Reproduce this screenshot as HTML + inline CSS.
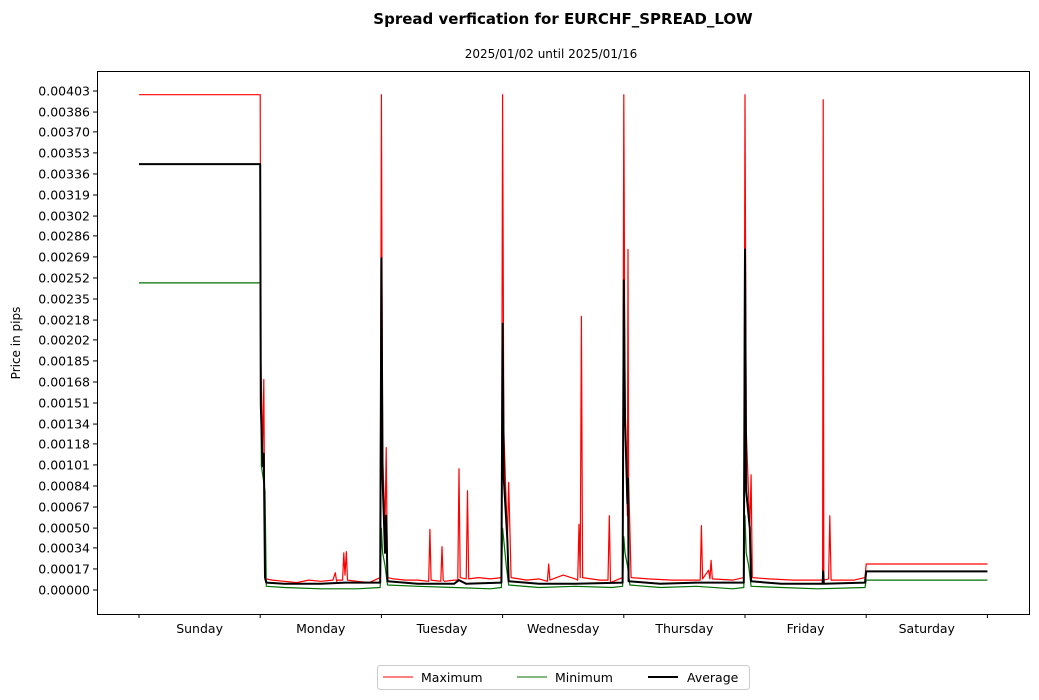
<!DOCTYPE html>
<html><head><meta charset="utf-8"><style>
body{margin:0;background:#fff;font-family:"DejaVu Sans","Liberation Sans",sans-serif;}
svg{display:block}
</style></head><body>
<svg id="c" width="1039" height="700" font-family="DejaVu Sans, Liberation Sans, sans-serif">
<text x="563" y="24" text-anchor="middle" font-size="15" font-weight="bold">Spread verfication for EURCHF_SPREAD_LOW</text>
<text x="551" y="58" text-anchor="middle" font-size="12">2025/01/02 until 2025/01/16</text>
<text transform="translate(20,343) rotate(-90)" text-anchor="middle" font-size="12">Price in pips</text>
<g id="plot"></g>
<rect x="97.5" y="71.5" width="932" height="543" fill="none" stroke="#000" stroke-width="1"/>
<g>
<rect x="377.5" y="665.5" width="372" height="24" rx="3" fill="#fff" stroke="#ccc"/>
<line x1="383" y1="677" x2="413" y2="677" stroke="red" stroke-width="1"/>
<text x="421" y="682" font-size="12.5">Maximum</text>
<line x1="517" y1="677" x2="547" y2="677" stroke="#007000" stroke-width="1"/>
<text x="555" y="682" font-size="12.5">Minimum</text>
<line x1="648" y1="677" x2="678" y2="677" stroke="#000" stroke-width="2"/>
<text x="687" y="682" font-size="12.5">Average</text>
</g>
</svg>
<script>
const yTicks=["0.00000","0.00017","0.00034","0.00050","0.00067","0.00084","0.00101","0.00118","0.00134","0.00151","0.00168","0.00185","0.00202","0.00218","0.00235","0.00252","0.00269","0.00286","0.00302","0.00319","0.00336","0.00353","0.00370","0.00386","0.00403"];
const days=["Sunday","Monday","Tuesday","Wednesday","Thursday","Friday","Saturday"];
const maxT=[0,1.0,1.005,1.02,1.03,1.04,1.05,1.1,1.2,1.3,1.4,1.5,1.6,1.62,1.63,1.64,1.68,1.69,1.7,1.71,1.72,1.8,1.9,1.99,2.0,2.01,2.03,2.04,2.05,2.1,2.2,2.3,2.39,2.4,2.41,2.49,2.5,2.51,2.52,2.6,2.63,2.64,2.65,2.7,2.71,2.72,2.8,2.9,2.99,3.0,3.01,3.04,3.05,3.07,3.2,3.3,3.37,3.38,3.39,3.5,3.6,3.62,3.63,3.64,3.65,3.66,3.8,3.87,3.88,3.89,3.99,4.0,4.01,4.03,4.035,4.04,4.06,4.2,4.4,4.63,4.64,4.65,4.7,4.71,4.72,4.73,4.9,4.99,5.0,5.01,5.04,5.05,5.06,5.2,5.4,5.64,5.645,5.65,5.69,5.70,5.71,5.9,5.99,6.0,7.0];
const maxV=[0.0040,0.0040,0.0019,0.0011,0.0017,0.0001,0.00009,0.00008,0.00007,0.00006,0.00008,0.00007,0.00008,0.00014,0.00007,0.00008,0.00008,0.0003,0.00012,0.00031,0.00008,0.00007,0.00006,0.0001,0.0040,0.0011,0.0005,0.00115,0.0001,0.00009,0.00008,0.00008,0.00007,0.00049,0.00008,0.00007,0.00035,0.00008,0.00007,0.00008,0.00008,0.00098,0.0001,0.00009,0.0008,0.00009,0.0001,0.00009,0.0001,0.0040,0.0013,0.0004,0.00087,0.0001,0.00008,0.00009,0.00007,0.00021,0.00008,0.00012,0.00009,0.00008,0.00053,0.0001,0.00221,0.0001,0.00008,0.00008,0.0006,0.00006,0.0001,0.0040,0.0015,0.0006,0.00275,0.0009,0.0001,0.00009,0.00008,0.00008,0.00052,0.00009,0.00016,0.00009,0.00024,0.00009,0.00008,0.0001,0.0040,0.0013,0.0005,0.00093,0.0001,0.00009,0.00008,0.00008,0.00396,0.00008,0.00009,0.0006,0.00008,0.00008,0.0001,0.00021,0.00021];
const minT=[0,1.0,1.01,1.04,1.05,1.2,1.5,1.8,1.99,2.0,2.01,2.03,2.05,2.3,2.6,2.9,2.99,3.0,3.01,3.03,3.05,3.3,3.6,3.9,3.99,4.0,4.01,4.03,4.05,4.3,4.6,4.9,4.99,5.0,5.01,5.03,5.05,5.3,5.6,5.99,6.0,7.0];
const minV=[0.00248,0.00248,0.0010,0.0008,0.00003,0.00002,0.00001,0.00001,0.00002,0.0005,0.0003,0.0002,0.00004,0.00003,0.00002,0.00001,0.00002,0.0005,0.0004,0.0002,0.00004,0.00002,0.00003,0.00002,0.00003,0.00043,0.0003,0.0002,0.00004,0.00002,0.00003,0.00001,0.00002,0.0006,0.0003,0.0002,0.00003,0.00002,0.00001,0.00002,0.00008,0.00008];
const avgT=[0,1.0,1.005,1.02,1.03,1.04,1.05,1.2,1.5,1.7,1.99,2.0,2.01,2.03,2.04,2.05,2.3,2.6,2.64,2.7,2.99,3.0,3.01,3.04,3.05,3.3,3.6,3.99,4.0,4.01,4.03,4.035,4.04,4.3,4.6,4.99,5.0,5.01,5.04,5.05,5.3,5.64,5.645,5.65,5.99,6.0,7.0];
const avgV=[0.00344,0.00344,0.0015,0.001,0.0011,0.0001,0.00006,0.00005,0.00005,0.00006,0.00006,0.00268,0.0009,0.0003,0.0006,0.00007,0.00005,0.00005,0.00008,0.00005,0.00006,0.00215,0.0009,0.0004,0.00007,0.00005,0.00005,0.00006,0.0025,0.0014,0.0007,0.0009,0.00007,0.00005,0.00006,0.00006,0.00275,0.0008,0.0005,0.00007,0.00005,0.00005,0.00015,0.00005,0.00006,0.00015,0.00015];
const NS="http://www.w3.org/2000/svg";
const plot=document.getElementById('plot');
const x0=139,dayW=121.2,yZero=590,yTop=91,vTop=0.00403;
const xs=t=>x0+t*dayW;
const ys=v=>yZero-(v/vTop)*(yZero-yTop);
function mk(tag,attrs){const e=document.createElementNS(NS,tag);for(const k in attrs)e.setAttribute(k,attrs[k]);plot.appendChild(e);return e;}
yTicks.forEach((s,i)=>{const y=ys(parseFloat(s));
 const l=mk('line',{x1:93,x2:97,y1:y,y2:y,stroke:'#000'});
 
 
 const t=mk('text',{x:90,y:y+4.5,'text-anchor':'end','font-size':12.5});t.textContent=s;
 
 
});
for(let i=0;i<=days.length;i++){const x=xs(i);
 const l=mk('line',{x1:x,x2:x,y1:614,y2:618,stroke:'#000'});
 
 
}
days.forEach((d,i)=>{const t=mk('text',{x:xs(i+0.5),y:633,'text-anchor':'middle','font-size':12.5});t.textContent=d;
 
 
});
function line(T,V,color,w,name){const p=T.map((t,i)=>xs(t).toFixed(1)+','+ys(V[i]).toFixed(1)).join(' ');
 const e=mk('polyline',{points:p,fill:'none',stroke:color,'stroke-width':w,'stroke-linejoin':'round'});
 
 
}
line(maxT,maxV,'red',1.2,'maximum-line');
line(minT,minV,'#007000',1.2,'minimum-line');
line(avgT,avgV,'#000',2,'average-line');
</script>
</body></html>
